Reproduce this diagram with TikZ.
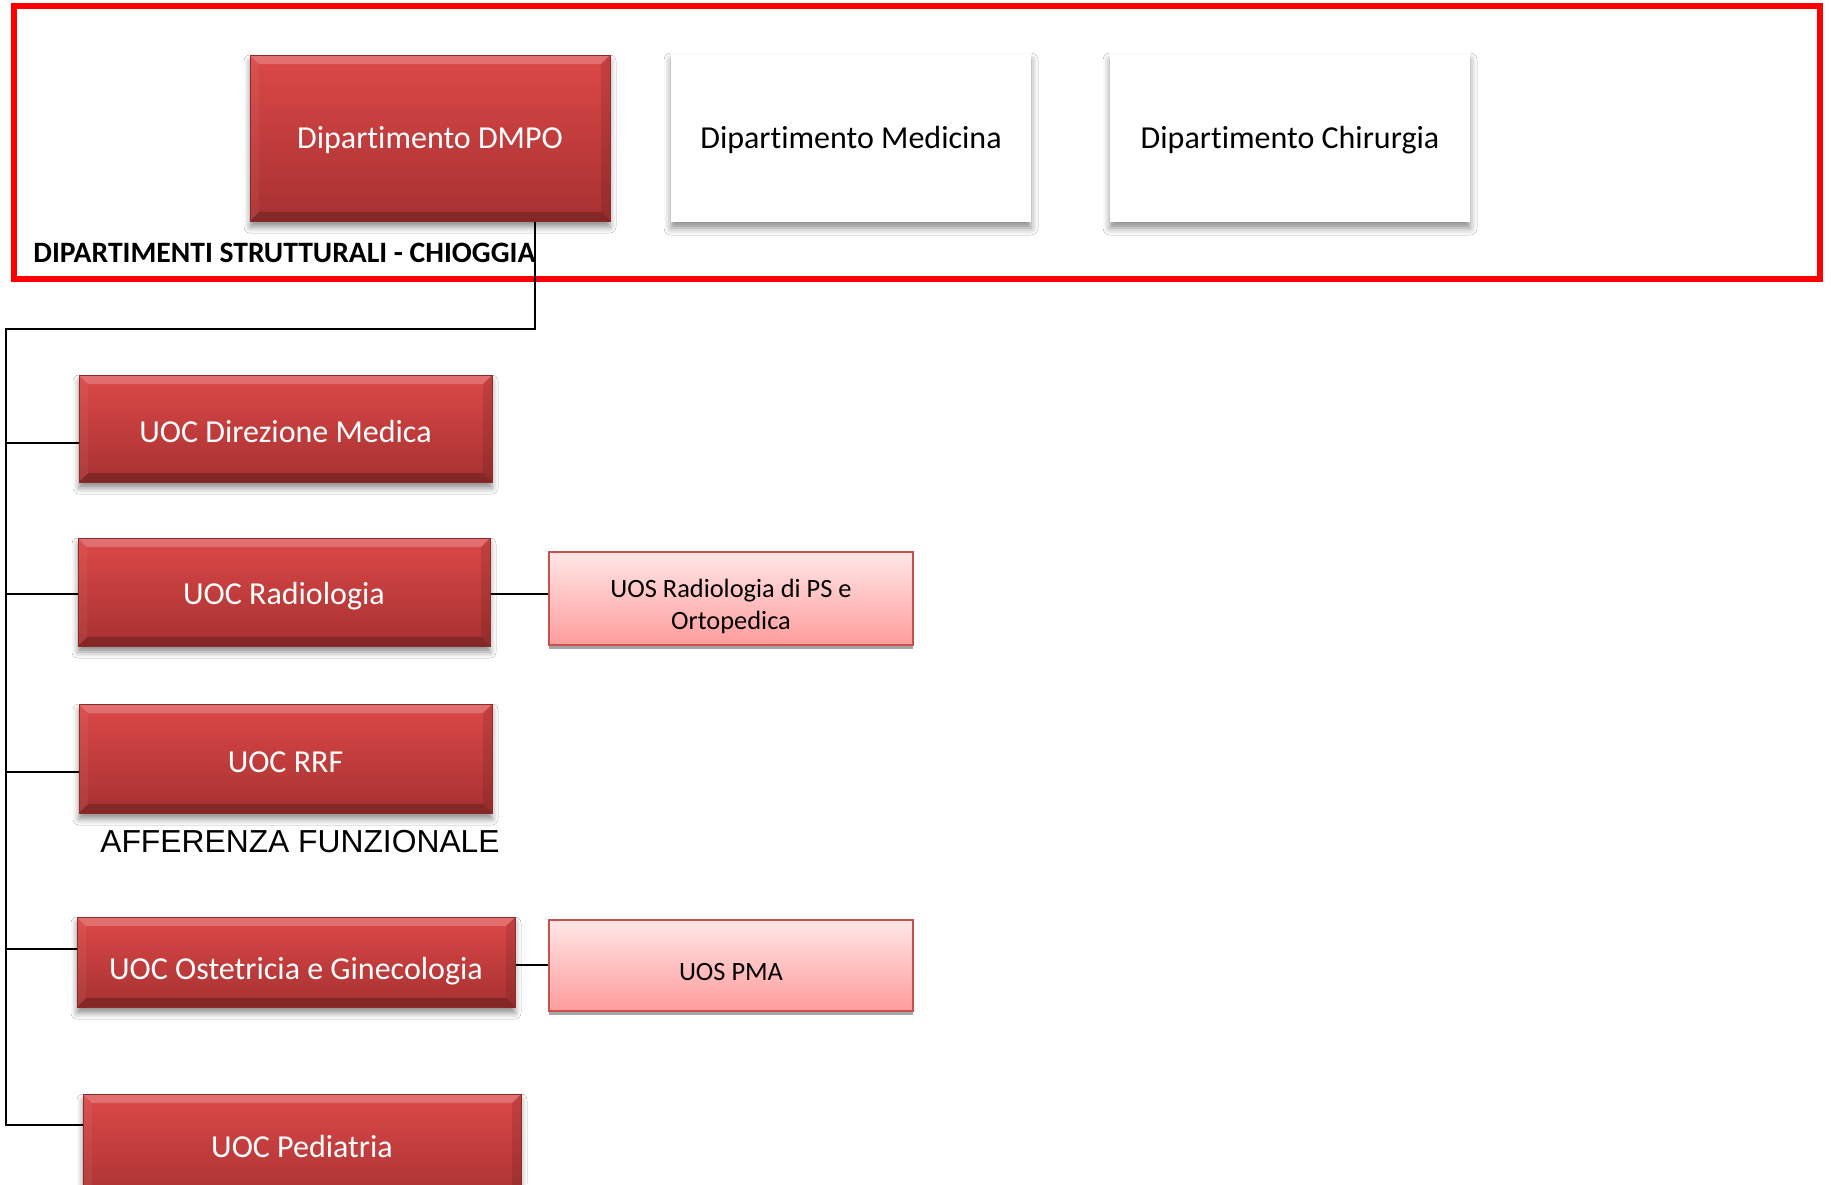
\documentclass[tikz,border=0pt]{standalone}
\usepackage{fontspec}
\setmainfont{Carlito}[Ligatures=NoCommon]
\newfontfamily\arialf{Liberation Sans}
\usetikzlibrary{calc,shadows,shadows.blur}
\definecolor{rtop}{HTML}{DC4848}
\definecolor{rbot}{HTML}{A73131}
\definecolor{redge}{HTML}{8E2A2A}
\definecolor{ptop}{HTML}{FFE6E6}
\definecolor{pbot}{HTML}{FF9C9C}
\definecolor{pedge}{HTML}{C8504D}
\definecolor{frame}{HTML}{FF0000}
\tikzset{
  bev/.style={path picture={
    \path (path picture bounding box.north west) coordinate (nw)
          (path picture bounding box.north east) coordinate (ne)
          (path picture bounding box.south west) coordinate (sw)
          (path picture bounding box.south east) coordinate (se);
    \fill[white,opacity=0.22] (nw) -- (ne) -- ($(ne)+(-4.5pt,-4.5pt)$) -- ($(nw)+(4.5pt,-4.5pt)$) -- cycle;
    \fill[black,opacity=0.22] (sw) -- (se) -- ($(se)+(-4.5pt,4.5pt)$) -- ($(sw)+(4.5pt,4.5pt)$) -- cycle;
    \fill[white,opacity=0.05] (nw) -- ($(nw)+(4.5pt,-4.5pt)$) -- ($(sw)+(4.5pt,4.5pt)$) -- (sw) -- cycle;
    \fill[black,opacity=0.10] (ne) -- ($(ne)+(-4.5pt,-4.5pt)$) -- ($(se)+(-4.5pt,4.5pt)$) -- (se) -- cycle;
  }},
  redbox/.style={bev, draw=redge, line width=0.5pt, top color=rtop, bottom color=rbot,
    inner sep=0pt, text=white, font=\fontsize{16}{19}\selectfont,
    text height=16.5pt, text depth=3.2pt,
    blur shadow={shadow xshift=0pt, shadow yshift=-3pt, shadow blur radius=3pt, shadow opacity=45}},
  whitebox/.style={fill=white, inner sep=0pt, minimum width=180pt, minimum height=84pt,
    font=\fontsize{16}{19}\selectfont, text height=13.5pt, text depth=3.2pt,
    blur shadow={shadow xshift=0pt, shadow yshift=-3pt, shadow blur radius=3.5pt, shadow opacity=45}},
  pinkbox/.style={draw=pedge, line width=1pt, top color=ptop, bottom color=pbot,
    inner sep=0pt, minimum width=182pt,
    general shadow={shadow xshift=0pt, shadow yshift=-2.2pt, fill=black!35}},
  ptext/.style={align=center, inner sep=0pt, font=\fontsize{13.2}{16.3}\selectfont},
  conn/.style={draw=black, line width=1pt},
}
\begin{document}
\begin{tikzpicture}[x=0.5pt,y=-0.5pt]
\useasboundingbox (0,0) rectangle (1831,1184);
\clip (0,0) rectangle (1831,1184);
\fill[white] (0,0) rectangle (1831,1184);

% frame
\draw[frame, line width=3pt] (14,6) rectangle (1820,279);

% top departments
\node[redbox, minimum width=180pt, minimum height=83pt, text height=13.5pt] (dmpo) at (430,138) {Dipartimento DMPO};
\node[whitebox] (med) at (851,138) {Dipartimento Medicina};
\node[whitebox] (chir) at (1290,138) {Dipartimento Chirurgia};
\node[anchor=west, inner sep=0pt, font=\bfseries\fontsize{14.8}{17}\selectfont] (lbl) at (33,253) {DIPARTIMENTI STRUTTURALI - CHIOGGIA};

% units
\node[redbox, minimum width=206.5pt, minimum height=53.5pt, text height=16.7pt] (dir) at (285.5,428.5) {UOC Direzione Medica};
\node[redbox, minimum width=206pt, minimum height=54pt, text height=15.8pt] (rad) at (284,592) {UOC Radiologia};
\node[pinkbox, minimum height=46.5pt,
  label={[ptext, yshift=-4pt]center:UOS Radiologia di PS e\\Ortopedica}] (uosr) at (731,598.5) {};
\node[redbox, minimum width=206.5pt, minimum height=54.5pt, text height=17pt] (rrf) at (285.5,758.5) {UOC RRF};
\node[inner sep=0pt, font=\arialf\fontsize{15.9}{19}\selectfont] (aff) at (300,842) {AFFERENZA FUNZIONALE};
\node[redbox, minimum width=219pt, minimum height=45pt, text height=20.6pt] (ost) at (296,962) {UOC Ostetricia e Ginecologia};
\node[pinkbox, minimum height=45.5pt,
  label={[ptext, yshift=-3.5pt]center:UOS PMA}] (pma) at (731,965.5) {};
\node[redbox, minimum width=219pt, minimum height=56pt] (ped) at (302,1150) {};
\node[inner sep=0pt, text=white, font=\fontsize{16}{19}\selectfont] (pedt) at (302,1146) {UOC Pediatria};

% connectors
\coordinate (j0) at (535,329);
\coordinate (j1) at (6,329);
\coordinate (b1) at (6,443);
\coordinate (b2) at (6,594);
\coordinate (b3) at (6,772);
\coordinate (b4) at (6,949);
\coordinate (b5) at (6,1125);
\coordinate (c1) at (520,594);
\coordinate (c2) at (530,965);
\draw[conn] (dmpo.south -| j0) -- (j0) -- (j1) -- (b5) -- (b5 -| ped.west);
\draw[conn] (b1) -- (b1 -| dir.west);
\draw[conn] (b2) -- (b2 -| rad.west);
\draw[conn] (b3) -- (b3 -| rrf.west);
\draw[conn] (b4) -- (b4 -| ost.west);
\draw[conn] (c1 -| rad.east) -- (c1 -| uosr.west);
\draw[conn] (c2 -| ost.east) -- (c2 -| pma.west);
\end{tikzpicture}
\end{document}
